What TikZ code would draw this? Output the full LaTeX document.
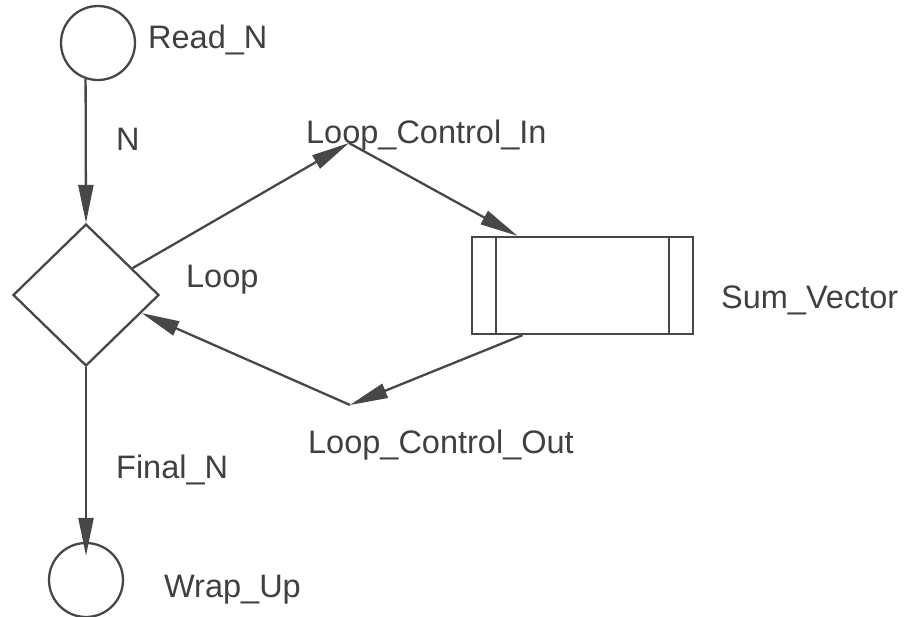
\documentclass[tikz,border=0pt]{standalone}
\usepackage{fontspec}
\setmainfont{Liberation Sans}
\usetikzlibrary{arrows.meta,shapes.geometric}
\definecolor{ink}{rgb}{0.28,0.28,0.28}
\definecolor{txt}{rgb}{0.25,0.25,0.25}
\begin{document}
\begin{tikzpicture}[x=1pt,y=-1pt,
  line width=2.3pt, draw=ink,
  flow/.style={draw=ink,line width=2.3pt,-{Triangle[length=38pt,width=15pt,fill=ink]}},
  term/.style={circle,draw=ink,line width=2.3pt,minimum size=74pt,inner sep=0pt},
  lbl/.style={anchor=base west,inner sep=0pt,text=txt,font=\fontsize{32.5}{36}\selectfont}]
\useasboundingbox (0,0) rectangle (909,616);
% shapes
\node[term] (readn) at (98,43) {};
\node[draw=ink,line width=2.3pt,diamond,minimum width=146pt,minimum height=142pt,inner sep=0pt] (loop) at (86,295) {};
\node[draw=ink,line width=2.3pt,rectangle,minimum width=221pt,minimum height=97pt,inner sep=0pt] (sv) at (582.5,285.5) {};
\draw[ink,line width=2.3pt] ([xshift=25pt]sv.north west) -- ([xshift=25pt]sv.south west);
\draw[ink,line width=2.3pt] ([xshift=-25pt]sv.north east) -- ([xshift=-25pt]sv.south east);
\node[term] (wrap) at (86,580) {};
\coordinate (lci) at (349,143);
\coordinate (lco) at (350,405);
% connectors
\draw[flow] (readn.-109) -- (loop.north);
\draw[flow] (loop.30) -- (lci);
\draw[flow] (lci) -- ([xshift=-65pt]sv.north);
\draw[flow] ([xshift=-60pt]sv.south) -- (lco);
\draw[flow] (lco) -- (loop.-18);
\draw[flow,shorten >=-14pt] (loop.south) -- (wrap.north);
% labels
\node[lbl] (tReadN) at (147,48) {Read\_N};
\node[lbl] (tN) at (115,150) {N};
\node[lbl] (tLCI) at (305,143) {Loop\_Control\_In};
\node[lbl] (tLoop) at (185,287) {Loop};
\node[lbl] (tSV) at (720,308) {Sum\_Vector};
\node[lbl] (tLCO) at (307,453) {Loop\_Control\_Out};
\node[lbl] (tFinal) at (115,478) {Final\_N};
\node[lbl] (tWrap) at (163,597) {Wrap\_Up};
\end{tikzpicture}
\end{document}
